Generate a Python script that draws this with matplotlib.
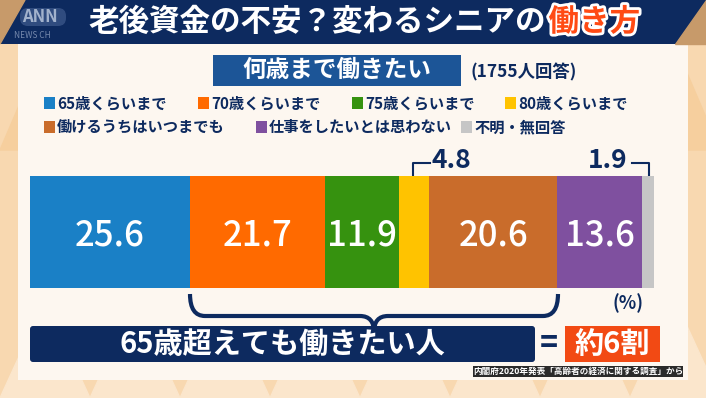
import matplotlib
matplotlib.use("Agg")
import matplotlib.pyplot as plt
import matplotlib.patheffects as pe
from matplotlib.patches import Rectangle, FancyBboxPatch, Polygon, PathPatch
from matplotlib.path import Path

plt.rcParams['font.family'] = ['Noto Sans CJK JP', 'DejaVu Sans']

# data
categories = ["65歳くらいまで", "70歳くらいまで", "75歳くらいまで", "80歳くらいまで",
              "働けるうちはいつまでも", "仕事をしたいとは思わない", "不明・無回答"]
values = [25.6, 21.7, 11.9, 4.8, 20.6, 13.6, 1.9]
colors = ["#1a80c6", "#ff6a00", "#36920f", "#ffc300", "#c96c2b", "#7f509f", "#c6c6c6"]
inside_labels = [True, True, True, False, True, True, False]

NAVY = "#0d2a5f"
W, H = 706, 398

fig = plt.figure(figsize=(W / 100, H / 100), dpi=100)
fig.patch.set_facecolor("#f8d8b0")

# overlay axes in pixel coordinates
ov = fig.add_axes([0, 0, 1, 1])
ov.set_xlim(0, W)
ov.set_ylim(H, 0)
ov.axis("off")

# background triangles
for i in range(-1, 9):
    x0 = i * 90
    ov.add_patch(Polygon([(x0, 398), (x0 + 45, 300), (x0 + 90, 398)], color="#fbe6cc", zorder=0))
    ov.add_patch(Polygon([(x0 + 45, 45), (x0 + 90, 150), (x0, 150)], color="#f6cf9e", zorder=0))

# panel
ov.add_patch(Rectangle((18, 40), 670, 340, facecolor="#fdf7f0", edgecolor="none", zorder=1))

# title bar
ov.add_patch(Rectangle((0, 0), W, 44, facecolor=NAVY, zorder=2))
ov.add_patch(Polygon([(0, 0), (25, 0), (0, 44)], color="#c79a6a", zorder=3))
ov.add_patch(Polygon([(W, 0), (W, 44), (675, 44)], color="#c79a6a", zorder=3))
ov.add_patch(FancyBboxPatch((20, 8), 46, 18, boxstyle="round,pad=0,rounding_size=8",
                            facecolor="#3a5588", edgecolor="none", alpha=0.8, zorder=3))
ov.text(22, 17, "ANN", color="#c0cce0", fontsize=12, fontweight="bold", style="italic",
        ha="left", va="center", alpha=0.8, zorder=4)
ov.text(14, 35, "NEWS CH", color="#8fa0c0", fontsize=6, ha="left", va="center", alpha=0.8, zorder=4)
ov.text(88, 22, "老後資金の不安？変わるシニアの", color="white", fontsize=22,
        fontweight="bold", ha="left", va="center", zorder=4)
ov.text(640, 22, "働き方", color="#ff4a14", fontsize=22, fontweight="bold",
        ha="right", va="center", zorder=4,
        path_effects=[pe.withStroke(linewidth=4, foreground="white")])

# subtitle
ov.add_patch(Rectangle((213, 55), 248, 31, facecolor="#1c5597", zorder=2))
ov.text(337, 70, "何歳まで働きたい", color="white", fontsize=17, fontweight="bold",
        ha="center", va="center", zorder=3)
ov.text(470, 72, "(1755人回答)", color=NAVY, fontsize=12.5, fontweight="bold",
        ha="left", va="center", zorder=3)

# legend
legend_pos = [(44, 103), (198, 103), (352, 103), (505, 103), (44, 127), (256, 127), (461, 127)]
for (lx, ly), cat, col in zip(legend_pos, categories, colors):
    ov.add_patch(Rectangle((lx, ly - 6), 11, 12, facecolor=col, zorder=3))
    ov.text(lx + 13, ly, cat, color=NAVY, fontsize=11, fontweight="bold",
            ha="left", va="center", zorder=3)

# bar chart axes
ax = fig.add_axes([30 / W, 1 - 288 / H, (654 - 30) / W, (288 - 176) / H])
ax.set_xlim(0, sum(values))
ax.set_ylim(0, 1)
ax.axis("off")
left = 0
for v, col, inside in zip(values, colors, inside_labels):
    ax.barh(0.5, v, left=left, height=1, color=col, edgecolor="none")
    if inside:
        ax.text(left + v / 2, 0.47, f"{v}", color="white", fontsize=25,
                fontweight="medium", ha="center", va="center")
    left += v

# small labels above bar with brackets
ov.plot([413, 413, 430], [178, 163, 163], color=NAVY, lw=1.5, zorder=3)
ov.text(432, 161, "4.8", color=NAVY, fontsize=19, fontweight="bold", ha="left", va="center", zorder=3)
ov.plot([632, 649, 649], [163, 163, 180], color=NAVY, lw=1.5, zorder=3)
ov.text(628, 161, "1.9", color=NAVY, fontsize=19, fontweight="bold", ha="right", va="center", zorder=3)

# brace under the 70歳..いつまでも segments
codes = [Path.MOVETO, Path.CURVE3, Path.CURVE3, Path.LINETO,
         Path.CURVE3, Path.CURVE3, Path.MOVETO,
         Path.CURVE3, Path.CURVE3, Path.LINETO,
         Path.CURVE3, Path.CURVE3, Path.LINETO]
verts = [(190, 294), (190, 316), (205, 316), (360, 316),
         (374, 316), (374, 332), (374, 332),
         (374, 316), (388, 316), (543, 316),
         (558, 316), (558, 294), (558, 294)]
ov.add_patch(PathPatch(Path(verts, codes), facecolor="none", edgecolor=NAVY, lw=3, zorder=3))
ov.text(628, 303, "(%)", color=NAVY, fontsize=13, fontweight="bold", ha="center", va="center", zorder=3)

# bottom summary
ov.add_patch(FancyBboxPatch((30, 326), 505, 36, boxstyle="round,pad=0,rounding_size=3",
                            facecolor=NAVY, edgecolor="none", zorder=2))
ov.text(282, 344, "65歳超えても働きたい人", color="white", fontsize=21, fontweight="bold",
        ha="center", va="center", zorder=3)
ov.text(549, 344, "=", color=NAVY, fontsize=22, fontweight="bold", ha="center", va="center", zorder=3)
ov.add_patch(Rectangle((565, 326), 95, 36, facecolor="#f24a14", zorder=2))
ov.text(612, 344, "約6割", color="white", fontsize=21, fontweight="bold",
        ha="center", va="center", zorder=3)

# source
ov.add_patch(Rectangle((473, 366), 210, 11, facecolor="#2a2a2a", zorder=4))
ov.text(578, 371.5, "内閣府2020年発表「高齢者の経済に関する調査」から", color="white", fontsize=6.2,
        fontweight="bold", ha="center", va="center", zorder=5)

fig.savefig("out.png", dpi=100)
